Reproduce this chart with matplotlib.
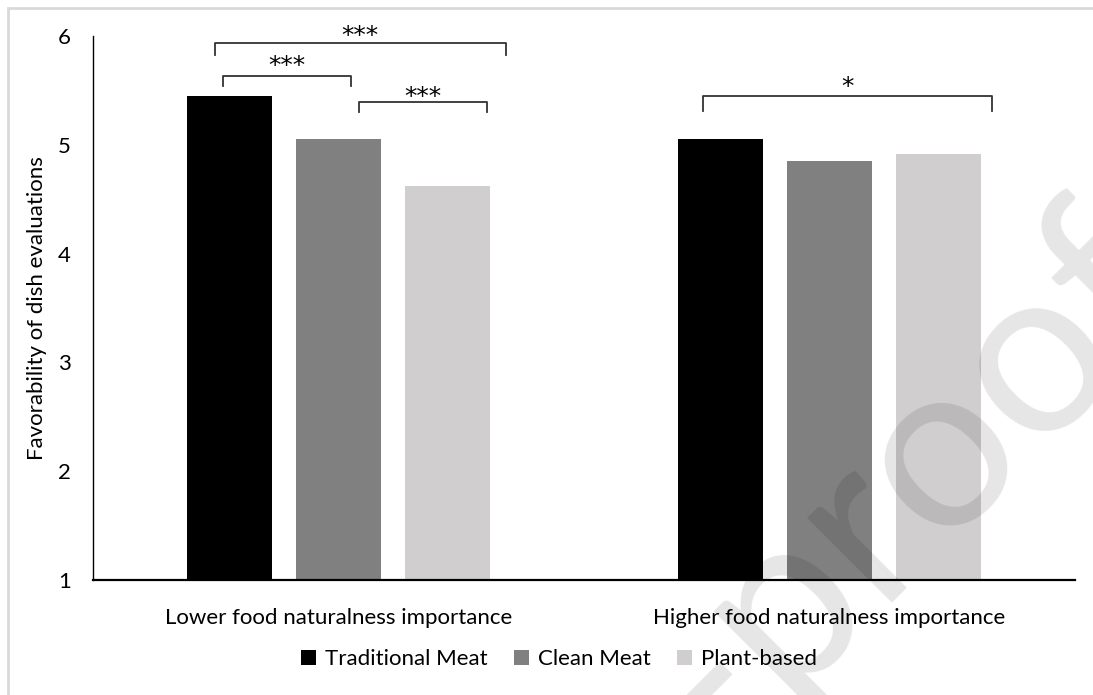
import matplotlib.pyplot as plt
import numpy as np
from matplotlib.patches import Rectangle

# data
groups = ['Lower food naturalness importance', 'Higher food naturalness importance']
series = ['Traditional Meat', 'Clean Meat', 'Plant-based']
traditional = [5.45, 5.05]
clean = [5.05, 4.85]
plant = [4.62, 4.92]
colors = ['#000000', '#808080', '#d0cece']

# significance brackets: (x_left, x_right, y_top, y_bottom, star_y, label)
brackets = [
    (-0.252, 0.341, 5.94, 5.825, 6.067, '***'),
    (-0.235, 0.026, 5.632, 5.54, 5.791, '***'),
    (0.042, 0.302, 5.393, 5.30, 5.506, '***'),
    (0.742, 1.331, 5.449, 5.31, 5.598, '*'),
]

plt.rcParams['font.family'] = ['Lato', 'DejaVu Sans']
fs = 16

fig = plt.figure(figsize=(10.93, 6.95), dpi=100)
ax = fig.add_axes([93 / 1093, 1 - 580 / 695, (1075 - 93) / 1093, (580 - 36) / 695])

x = np.arange(len(groups))
width = 0.175
step = 0.222
for i, (vals, name) in enumerate(zip([traditional, clean, plant], series)):
    ax.bar(x + (i - 1) * step, np.array(vals) - 1, width, bottom=1,
           color=colors[i], label=name, zorder=2)

ax.set_xlim(-0.5, 1.5)
ax.set_ylim(1, 6)
ax.set_yticks([1, 2, 3, 4, 5, 6])
ax.set_xticks(x)
ax.set_xticklabels(groups, fontsize=fs)
ax.tick_params(axis='both', length=0, labelsize=fs)
ax.tick_params(axis='x', pad=20)
ax.tick_params(axis='y', pad=16)
ax.set_ylabel('Favorability of dish evaluations', fontsize=fs, labelpad=8)

for s in ['top', 'right']:
    ax.spines[s].set_visible(False)
ax.spines['left'].set_linewidth(1.0)
ax.spines['bottom'].set_linewidth(1.6)

# asterisk centre sits ~0.133 data units above the baseline at this size
for x0, x1, yt, yb, ys, lab in brackets:
    ax.plot([x0, x0, x1, x1], [yb, yt, yt, yb], color='#333333', lw=1.3,
            clip_on=False, solid_joinstyle='round')
    ax.text((x0 + x1) / 2, ys - 0.133, lab, ha='center', va='baseline',
            fontsize=18, family='DejaVu Sans', clip_on=False)

ax.legend(loc='center', bbox_to_anchor=(559 / 1093, 1 - 659 / 695),
          bbox_transform=fig.transFigure, ncol=3, frameon=False, fontsize=fs,
          handlelength=0.68, handleheight=0.68, handletextpad=0.4,
          columnspacing=1.17)

# light frame around the chart area
fig.patches.append(Rectangle((8 / 1093, -0.2), 1.2, 1.2 - 8 / 695,
                             transform=fig.transFigure, fill=False,
                             edgecolor='#d9d9d9', lw=2))

# faint watermark
fig.text(1262 / 1093, 1 - 233 / 695, 'Journal Pre-proofs', fontsize=170,
         color='black', alpha=0.1, rotation=45, rotation_mode='anchor',
         ha='right', va='baseline', zorder=10)

plt.savefig('out.png', dpi=100)
